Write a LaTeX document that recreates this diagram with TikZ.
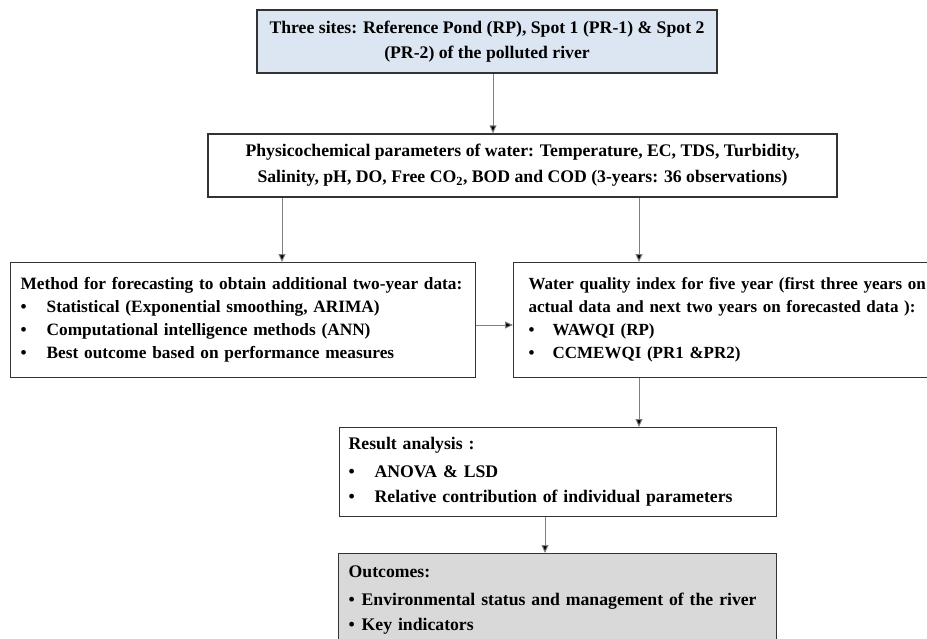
\documentclass[tikz,border=0pt]{standalone}
\usepackage{fontspec}
\setmainfont{Liberation Serif}
\usepackage{xcolor}
\usetikzlibrary{arrows.meta}
\definecolor{siteblue}{HTML}{DCE6F2}
\definecolor{outgray}{HTML}{D9D9D9}
\definecolor{linegray}{HTML}{7F7F7F}
\newcommand{\bul}[1][26pt]{\makebox[#1][l]{\textbullet}}

\begin{document}
\begin{tikzpicture}[x=1pt,y=-1pt,
	box/.style={draw=black!80, line width=1.3pt, inner ysep=0pt, font=\bfseries\fontsize{17.7}{23}\selectfont},
	midbox/.style={box, inner xsep=0pt, align=center},
	listbox/.style={box, anchor=north west, align=left},
	arr/.style={draw=linegray, line width=1pt, -{Triangle[length=8pt,width=7pt,fill=black]}}]
	\useasboundingbox (0,0) rectangle (927,638);
	\clip (0,0) rectangle (927,638);
	\node[midbox, fill=siteblue, minimum width=460pt, minimum height=63pt] (sites) at (487,41.5)
		{Three sites: Reference Pond (RP), Spot 1 (PR-1) \& Spot 2\\[2pt](PR-2) of the polluted river};
	\node[midbox, fill=white, minimum width=629pt, minimum height=63pt] (params) at (522.5,165.5)
		{Physicochemical parameters of water: Temperature, EC, TDS, Turbidity,\\[3pt]Salinity, pH, DO, Free CO\textsubscript{2}, BOD and COD (3-years: 36 observations)};
	\node[listbox, inner xsep=10pt, text width=445pt, minimum height=115pt,
		font=\bfseries\fontsize{17.3}{23}\selectfont] (method) at (10,262)
		{\mbox{Method for forecasting to obtain additional two-year data:}\\
		\bul Statistical (Exponential smoothing, ARIMA)\\
		\bul Computational intelligence methods (ANN)\\
		\bul Best outcome based on performance measures};
	\node[listbox, inner xsep=15pt, text width=410pt, minimum height=115pt,
		font=\bfseries\fontsize{17}{23}\selectfont] (wqi) at (513,262)
		{\mbox{Water quality index for five year (first three years on}\\
		\mbox{actual data and next two years on forecasted data ):}\\
		\bul[24pt]WAWQI (RP)\\
		\bul[24pt]CCMEWQI (PR1 \&PR2)};
	\node[listbox, inner xsep=9pt, text width=419pt, minimum height=89pt] (result) at (339,427)
		{Result analysis :\\[5pt]
		\bul ANOVA \& LSD\\[2pt]
		\bul Relative contribution of individual parameters};
	\node[listbox, fill=outgray, inner xsep=10pt, text width=418pt, minimum height=92pt] (outcome) at (338,553)
		{Outcomes:\\[5pt]
		\bul[13pt]Environmental status and management of the river\\[2pt]
		\bul[13pt]Key indicators};
	\coordinate (colT) at (493,0);
	\coordinate (colL) at (282,0);
	\coordinate (colR) at (639,0);
	\coordinate (colB) at (545,0);
	\coordinate (rowM) at (0,325);
	\draw[arr] (sites.south -| colT) -- (params.north -| colT);
	\draw[arr] (params.south -| colL) -- (method.north -| colL);
	\draw[arr] (params.south -| colR) -- (wqi.north -| colR);
	\draw[arr] (method.east |- rowM) -- (wqi.west |- rowM);
	\draw[arr] (wqi.south -| colR) -- (result.north -| colR);
	\draw[arr] (result.south -| colB) -- (outcome.north -| colB);
\end{tikzpicture}
\end{document}
